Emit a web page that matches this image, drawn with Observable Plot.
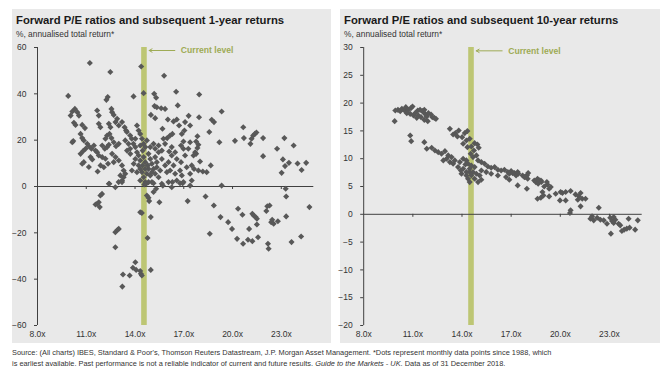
<!DOCTYPE html>
<html><head><meta charset="utf-8">
<script src="https://cdn.jsdelivr.net/npm/d3@7"></script>
<script src="https://cdn.jsdelivr.net/npm/@observablehq/plot@0.6"></script>
<style>
body{margin:0;background:#fff;font-family:"Liberation Sans",Arial,sans-serif;}
#root{position:relative;width:670px;height:373px;overflow:hidden;background:#fff;}
.panel{position:absolute;top:9px;height:334px;background:#e9e9e9;}
.title{position:absolute;left:4px;top:5px;font-weight:bold;font-size:11.3px;color:#1a1a1a;white-space:nowrap;}
.sub{position:absolute;left:4px;top:20px;font-size:8.4px;color:#333;white-space:nowrap;}
.chart{position:absolute;left:0;top:31px;}
#foot{position:absolute;left:12px;top:348px;font-size:7.4px;line-height:10.5px;color:#333;white-space:nowrap;}
</style></head>
<body>
<div id="root">
  <div class="panel" id="pl" style="left:12px;width:319px;">
    <div class="title">Forward P/E ratios and subsequent 1-year returns</div>
    <div class="sub">%, annualised total return*</div>
    <div class="chart" id="c1"></div>
  </div>
  <div class="panel" id="pr" style="left:340px;width:320px;">
    <div class="title">Forward P/E ratios and subsequent 10-year returns</div>
    <div class="sub">%, annualised total return*</div>
    <div class="chart" id="c2"></div>
  </div>
  <div id="foot">Source: (All charts) IBES, Standard &amp; Poor's, Thomson Reuters Datastream, J.P. Morgan Asset Management. *Dots represent monthly data points since 1988, which<br>is earliest available. Past performance is not a reliable indicator of current and future results. <i>Guide to the Markets - UK</i>. Data as of 31 December 2018.</div>
</div>
<script>
// ---- data ----
const currentPE = 14.55;
const xTicks = [8, 11, 14, 17, 20, 23];
const yTicks1 = [-60, -40, -20, 0, 20, 40, 60];
const yTicks10 = [-20, -15, -10, -5, 0, 5, 10, 15, 20, 25, 30];

// forward P/E vs subsequent 1-year return (%)
const oneYear = [
[11.22,53.3],[12.48,49.4],[14.38,51.8],[15.79,47.8],
[9.89,39.1],[14.53,40.3],[13.91,38.9],[15.18,40.0],[15.3,38.3],[16.53,40.9],[17.95,39.7],[12.24,37.4],[12.32,38.6],
[15.2,34.7],[15.34,34.2],[15.61,33.8],[15.85,33.5],[16.63,35.0],[15.24,29.5],[14.98,30.9],[16.02,28.9],[16.37,28.1],[16.57,28.9],[16.71,26.3],[17.08,27.8],[17.04,24.2],[17.39,26.3],[15.69,24.9],[15.98,20.9],[16.16,22.0],[16.3,22.7],[16.88,22.7],[16.98,19.4],[16.83,17.7],[16.98,16.3],[17.39,19.1],[17.28,16.3],[16.1,15.1],[16.26,13.4],[16.06,10.5],[17.3,30.5],
[10.14,32.4],[10.3,33.5],[10.45,32.1],[10.55,30.6],[10.04,30.6],
[10.34,26.6],[10.24,27.5],[10.75,26.6],[10.92,25.2],[10.65,22.7],[10.75,20.9],[10.85,19.9],[10.14,19.1],[11.06,18.4],[11.16,17.4],[11.32,16.3],[10.96,16.3],[11.47,17.7],[10.65,14.1],[10.85,10.5],[10.75,9.8],[11.26,12.7],[11.37,11.7],[11.67,14.8],[11.77,13.4],[11.57,15.5],
[11.77,30.6],[11.77,27.1],[11.87,25.6],[11.67,32.8],
[12.55,33.5],[12.59,32.1],[12.69,30.9],[12.9,29.2],[12.8,27.8],[12.39,27.1],[12.49,25.6],[13.0,26.3],[13.2,27.8],[13.36,25.6],[13.45,24.2],
[12.28,22.0],[12.18,20.6],[12.43,22.7],[12.55,20.9],[11.98,17.7],[12.14,16.3],[12.28,17.0],[12.39,18.0],[12.69,19.1],[12.83,17.4],[13.0,18.4],
[11.98,12.7],[12.18,12.0],[11.88,9.1],[12.08,8.3],[12.34,9.8],[12.59,14.1],[12.8,12.7],[12.69,10.5],[13.0,11.2],
[13.2,9.1],[13.3,6.9],[13.1,4.8],[13.4,5.5],[12.99,1.9],[13.2,2.6],[13.3,4.0],[12.39,1.2],
[10.2,19.6],[10.81,15.3],[11.16,8.4],[11.7,6.5],
[13.5,23.5],[13.7,22.0],[13.8,20.6],[13.4,19.9],[13.6,18.4],[13.9,18.4],[14.02,17.0],[13.7,16.3],
[14.12,26.3],[14.22,24.2],[14.32,22.7],[14.43,20.6],[14.53,18.4],[14.63,17.0],[14.47,15.5],
[14.12,14.8],[14.22,13.4],[14.02,11.9],[14.32,11.2],[13.92,9.8],[14.22,9.1],[14.53,12.7],[14.63,10.5],[14.83,14.1],[14.94,11.9],[15.04,9.8],[15.24,12.7],[15.45,14.8],[15.34,10.5],[15.14,7.6],[14.83,7.6],[14.73,5.5],[14.43,6.2],[14.53,4.0],[14.94,4.8],[15.24,5.5],[15.55,6.9],[15.45,4.0],[15.04,1.9],[14.63,1.9],[14.32,2.6],[14.12,6.2],[13.81,6.9],
[15.65,11.9],[15.85,9.1],[15.96,6.2],[16.16,6.9],[16.37,9.1],[16.47,5.5],[16.77,6.9],[16.88,4.8],[17.18,8.3],[17.39,5.5],[17.49,2.6],[16.98,1.9],[16.57,2.6],[16.06,1.9],[15.65,1.2],
[14.02,20.6],[13.51,15.5],[13.71,14.1],[14.32,17.7],[14.73,19.9],[14.94,17.0],[15.14,18.4],[15.24,16.3],[15.45,17.7],[15.65,15.5],[15.85,18.4],[15.75,20.6],[16.26,17.0],[16.47,14.8],[16.57,11.9],[17.08,13.4],[16.83,10.5],[14.63,7.6],[14.32,7.6],[14.47,9.1],[14.79,9.1],[15.04,6.2],[15.34,8.3],[14.83,1.9],
[17.94,29.9],[19.33,32.4],[18.72,28.8],[18.86,27.8],[18.57,23.5],[17.84,21.7],[17.76,19.4],[17.9,18.0],[17.84,16.6],[17.7,14.8],[17.6,13.4],[17.76,14.1],[17.49,9.1],[17.63,7.6],[18.0,10.8],[17.9,6.9],[18.17,6.5],[18.41,6.2],[18.66,9.1],[17.39,0.4],[19.33,0.4],[19.19,19.1],[20.15,19.7],[20.66,25.6],[20.7,20.9],[21.17,20.6],[21.27,22.0],[21.37,22.7],[21.47,23.3],[21.1,18.4],[21.88,20.9],[21.88,13.1],[22.74,16.3],[23.19,20.9],[23.76,17.7],[23.1,11.7],[23.23,8.8],[23.47,10.2],[23.02,5.9],[24.0,9.9],[24.53,10.2],[24.25,7.1],[23.27,-1.0],
[11.67,-7.5],[11.77,-6.8],[11.87,-3.9],[11.97,-3.2],[11.83,-8.9],[11.57,-7.8],[12.42,1.2],[12.79,-0.3],[13.2,1.9],[14.32,-11.1],[14.42,-11.4],[14.57,0.9],[14.69,1.2],[14.73,-3.9],[14.83,-4.9],[14.87,-6.3],[15.14,1.4],[15.14,-2.4],[15.3,-1.0],[15.5,-6.8],[14.97,-13.2],[15.71,0.4],[16.26,-0.3],[16.3,1.9],[16.77,1.4],[16.93,1.4],[17.24,-6.3],
[12.79,-19.7],[12.93,-18.7],[13.0,-18.3],[12.79,-26.2],[14.77,-22.2],[14.02,-32.7],[13.87,-35.1],[14.07,-36.0],[14.32,-36.5],[14.36,-37.7],[14.42,-38.4],[14.97,-36.0],[13.67,-38.4],[13.26,-38.0],[13.22,-43.2],
[18.34,-4.3],[18.6,-20.4],[18.85,-8.2],[19.26,-13.2],[19.73,-15.4],[19.97,-18.3],[20.28,-22.6],[20.34,-9.6],[20.61,-12.2],[20.65,-24.7],[20.95,-23.0],[21.02,-18.3],[21.22,-23.6],[21.22,-11.8],[21.3,-12.5],[21.42,-13.2],[21.5,-13.9],[21.5,-16.4],[21.57,-21.9],[22.08,-10.6],[22.14,-8.5],[22.28,-8.2],[22.18,-24.7],[22.22,-26.9],[22.38,-15.4],[22.44,-14.4],[22.53,-16.1],[22.79,-15.0],[23.3,-4.3],[23.3,-12.9],[23.63,-24.0],[24.22,-21.6],[24.73,-8.9]
];

// forward P/E vs subsequent 10-year annualised return (%)
const tenYear = [
[9.89,16.75],[9.93,18.67],[10.09,18.79],[10.23,18.55],[10.33,18.97],[10.49,18.67],[10.57,19.27],[10.73,18.79],[10.9,19.15],[10.98,19.39],[10.84,18.07],[10.63,18.19],[11.04,17.77],[11.14,18.19],[11.3,18.67],[11.44,18.79],[11.58,18.55],[11.7,18.79],[11.34,17.77],[11.5,17.47],[11.74,18.07],[11.85,17.59],[11.95,18.19],[12.11,17.95],[12.19,17.47],[12.31,17.35],[12.41,17.17],[11.91,16.75],[11.7,16.99],[11.24,17.35],
[10.84,14.18],[10.9,13.16],[11.7,12.98],
[11.85,11.78],[12.15,11.96],[12.35,11.48],[12.55,11.18],[12.75,10.89],[12.96,11.36],[13.16,10.59],[13.36,10.29],[13.06,9.99],[12.86,9.69],[13.26,9.39],[13.46,9.09],[13.56,9.69],[13.76,8.49],[13.93,7.89],[14.07,8.19],[14.21,8.97],[13.97,7.29],[14.27,7.0],[14.47,7.59],
[13.26,15.37],[13.46,14.36],[13.6,14.6],[13.8,15.08],[13.72,14.0],[14.01,13.88],[14.17,14.6],[14.33,14.96],[14.27,13.28],[14.47,13.58],[14.07,12.68],[14.33,12.08],[14.57,12.2],[14.77,12.8],[14.94,12.56],[15.02,11.96],[14.73,11.48],[14.53,10.89],[14.67,10.29],[14.88,10.59],[14.98,9.69],[15.18,9.39],[15.38,9.09],[15.58,8.61],[15.78,8.37],[15.99,8.49],[16.19,8.01],[16.39,7.89],[16.59,8.01],[16.8,7.59],[17.0,7.77],[17.2,7.41],[17.4,7.59],[17.3,6.99],[16.69,6.69],[16.19,6.99],[15.78,7.29],[15.48,7.59],[15.18,7.89],
[13.87,9.39],[14.07,9.99],[14.27,9.69],[14.37,9.09],[14.57,8.79],[14.77,8.49],[14.47,8.19],[14.67,7.59],[14.88,7.29],[15.08,6.99],[14.57,6.99],[14.27,7.59],[14.37,6.39],[14.77,6.39],[15.18,6.21],[14.98,5.79],[14.47,5.79],
[17.7,6.99],[17.81,6.69],[18.01,6.39],[18.41,6.09],[18.51,5.79],[18.65,5.49],[18.82,6.09],[19.02,5.01],[19.22,5.37],[19.32,4.6],[19.42,4.9],
[16.89,7.3],[17.09,7.41],[17.44,7.3],[16.89,6.22],[17.4,5.2],[17.96,7.0],[18.04,7.41],[17.9,6.7],[17.96,4.6],[18.61,6.4],[18.71,6.1],[18.85,5.8],[19.18,5.8],[18.91,4.0],[18.61,2.8],[18.81,2.98],[19.32,3.22],[18.97,3.4],[19.72,3.7],[20.02,4.0],[20.13,3.82],[20.33,4.0],[20.63,4.18],[19.98,2.5],[20.33,2.5],[20.63,0.71],[20.59,0.23],[20.93,3.58],[21.14,3.22],[21.24,3.82],[21.07,2.62],[21.34,2.8],[21.54,2.8],[21.24,1.43],[21.84,-0.79],[21.94,-0.37],[22.04,-1.09],[22.25,-0.61],[22.35,1.19],[22.45,-0.97],[22.65,-1.09],[22.85,-1.69],[23.05,-0.61],[23.16,-1.21],[23.26,-1.57],[23.36,-0.97],[23.26,-0.49],[23.56,-1.69],[23.66,-1.99],[23.09,-3.48],[23.76,-3.0],[23.9,-2.76],[24.06,-2.58],[24.23,-2.4],[24.17,-0.79],[24.57,-2.76],[24.73,-1.09]
];

// ---- styles ----
const dotColor = "#585858";
const axisColor = "#404040";
const barColor = "#bdc674";
const noteColor = "#9eab55";
const fontFam = "Liberation Sans, Arial, sans-serif";

function makeChart({points, yDomain, yTicks, width, marginLeft, marginRight, arrowY}) {
  const fmt = d => d.toFixed(1) + "x";
  return Plot.plot({
    width, height: 302,
    marginLeft, marginRight, marginTop: 7, marginBottom: 17,
    style: {background: "transparent", fontFamily: fontFam, fontSize: "8.5px", color: "#333", overflow: "visible"},
    x: {domain: [8, 25]},
    y: {domain: yDomain},
    marks: [
      Plot.ruleX([currentPE], {stroke: barColor, strokeWidth: 5.6}),
      Plot.axisX({ticks: xTicks, tickFormat: fmt, tickSize: 0, tickPadding: 5, label: null}),
      Plot.axisY({ticks: yTicks, tickSize: 3, tickPadding: 8, label: null, stroke: axisColor}),
      Plot.ruleX([8], {stroke: axisColor, strokeWidth: 1}),
      Plot.ruleY([0], {x1: 8, x2: 25, stroke: axisColor, strokeWidth: 1}),
      Plot.ruleX(xTicks.slice(1), {x: d => d, y1: 0, y2: 0, insetBottom: -3, stroke: axisColor}),
      Plot.dot(points, {x: d => d[0], y: d => d[1], symbol: d3.symbolDiamond2, r: 2.75, fill: dotColor, stroke: "none"}),
      Plot.arrow([currentPE], {x1: d => d + 1.9, x2: d => d + 0.32, y1: arrowY, y2: arrowY, stroke: noteColor, strokeWidth: 1, headLength: 5, bend: 0}),
      Plot.text([currentPE], {x: d => d + 2.27, y: arrowY, text: () => "Current level", textAnchor: "start", fill: noteColor, fontWeight: "bold", fontSize: 8.6})
    ]
  });
}

document.getElementById("c1").append(makeChart({
  points: oneYear, yDomain: [-60, 60], yTicks: yTicks1, width: 319, marginLeft: 25, marginRight: 17.7, arrowY: 58.7
}));
document.getElementById("c2").append(makeChart({
  points: tenYear, yDomain: [-20, 30], yTicks: yTicks10, width: 320, marginLeft: 23.2, marginRight: 18.3, arrowY: 29.4
}));
</script>
</body></html>
